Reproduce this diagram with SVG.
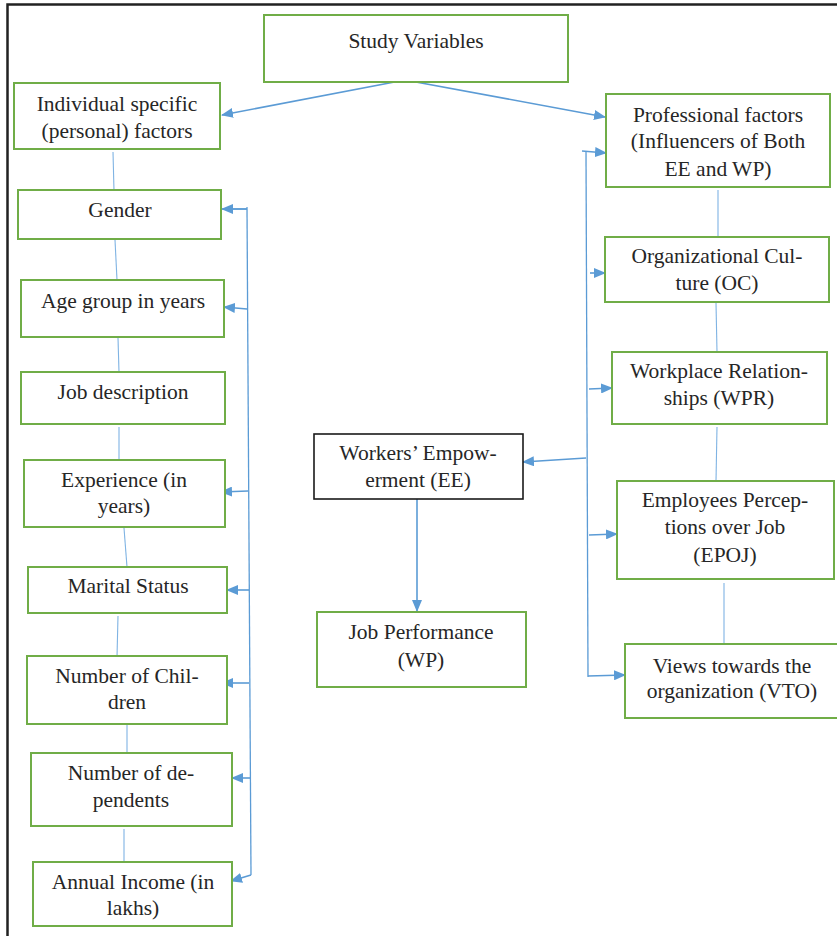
<svg xmlns="http://www.w3.org/2000/svg" width="837" height="936" viewBox="0 0 837 936">
<style>
.box{fill:#fff;stroke:#70AD47;stroke-width:2}
.bbox{fill:#fff;stroke:#1a1a1a;stroke-width:1.6}
text{font-family:"Liberation Serif","Times New Roman",serif;font-size:21.5px;fill:#262626;text-anchor:middle}
.arr{stroke:#5B9BD5;stroke-width:1.6;fill:none;marker-end:url(#ah)}
.bus{stroke:#5B9BD5;stroke-width:1.3;fill:none}
.ln{stroke:#7FB3E3;stroke-width:1.1;fill:none}
</style>
<defs>
<marker id="ah" markerUnits="userSpaceOnUse" markerWidth="12" markerHeight="10" refX="11" refY="5" orient="auto">
<path d="M0,0 L12,5 L0,10 Z" fill="#5B9BD5"/>
</marker>
</defs>
<rect width="837" height="936" fill="#fff"/>
<path d="M7.5,936 V4.5 H837" stroke="#222" stroke-width="2.5" fill="none"/>

<g id="connectors">
<line class="arr" x1="405" y1="80" x2="222" y2="115"/>
<line class="arr" x1="405" y1="80" x2="605" y2="117"/>
<line class="bus" x1="247" y1="207" x2="251" y2="875"/>
<line class="bus" x1="232" y1="209" x2="247" y2="209"/>
<line class="arr" x1="247" y1="209" x2="222" y2="209"/>
<line class="arr" x1="247" y1="309" x2="224" y2="307"/>
<line class="arr" x1="248" y1="491" x2="221" y2="492"/>
<line class="arr" x1="249" y1="590" x2="227" y2="590"/>
<line class="arr" x1="249" y1="683" x2="222" y2="683"/>
<line class="arr" x1="250" y1="778" x2="232" y2="778"/>
<line class="arr" x1="251" y1="875" x2="231" y2="881"/>
<line class="ln" x1="113" y1="152" x2="114" y2="191"/>
<line class="ln" x1="115" y1="240" x2="117" y2="280"/>
<line class="ln" x1="118" y1="338" x2="119" y2="372"/>
<line class="ln" x1="119" y1="427" x2="119" y2="460"/>
<line class="ln" x1="124" y1="528" x2="127" y2="567"/>
<line class="ln" x1="118" y1="616" x2="117" y2="657"/>
<line class="ln" x1="127" y1="725" x2="127" y2="753"/>
<line class="ln" x1="124" y1="829" x2="124" y2="862"/>
<line class="bus" x1="586" y1="151" x2="588" y2="677"/>
<line class="arr" x1="582" y1="151" x2="606" y2="153"/>
<line class="arr" x1="590" y1="273" x2="605" y2="273"/>
<line class="arr" x1="589" y1="389" x2="612" y2="388"/>
<line class="arr" x1="586" y1="458" x2="523" y2="462"/>
<line class="arr" x1="589" y1="535" x2="617" y2="534"/>
<line class="arr" x1="588" y1="676" x2="625" y2="675"/>
<line class="ln" x1="718" y1="190" x2="718" y2="237"/>
<line class="ln" x1="716" y1="303" x2="717" y2="352"/>
<line class="ln" x1="717" y1="427" x2="716" y2="481"/>
<line class="ln" x1="724" y1="583" x2="724" y2="650"/>
<line class="arr" x1="417" y1="499" x2="417" y2="611"/>
</g>

<g id="study"><rect class="box" x="264" y="15" width="304" height="67"/><text x="416" y="48">Study Variables</text></g>
<g id="individual"><rect class="box" x="14" y="83" width="206" height="66"/><text x="117" y="111">Individual specific</text><text x="117" y="138">(personal) factors</text></g>
<g id="gender"><rect class="box" x="18" y="190" width="203" height="49"/><text x="120" y="217">Gender</text></g>
<g id="age"><rect class="box" x="21" y="280" width="203" height="57"/><text x="123" y="308">Age group in years</text></g>
<g id="job"><rect class="box" x="21" y="372" width="204" height="52"/><text x="123" y="399">Job description</text></g>
<g id="experience"><rect class="box" x="24" y="460" width="201" height="67"/><text x="124" y="487">Experience (in</text><text x="124" y="513">years)</text></g>
<g id="marital"><rect class="box" x="28" y="567" width="199" height="46"/><text x="128" y="593">Marital Status</text></g>
<g id="children"><rect class="box" x="27" y="656" width="200" height="68"/><text x="127" y="683">Number of Chil-</text><text x="127" y="709">dren</text></g>
<g id="dependents"><rect class="box" x="31" y="753" width="201" height="73"/><text x="131" y="780">Number of de-</text><text x="131" y="807">pendents</text></g>
<g id="income"><rect class="box" x="33" y="862" width="199" height="64"/><text x="133" y="889">Annual Income (in</text><text x="133" y="915">lakhs)</text></g>

<g id="professional"><rect class="box" x="606" y="94" width="224" height="93"/><text x="718" y="122">Professional factors</text><text x="718" y="148">(Influencers of Both</text><text x="718" y="176">EE and WP)</text></g>
<g id="oc"><rect class="box" x="605" y="237" width="224" height="65"/><text x="717" y="263">Organizational Cul-</text><text x="717" y="290">ture (OC)</text></g>
<g id="wpr"><rect class="box" x="612" y="352" width="215" height="72"/><text x="719" y="378">Workplace Relation-</text><text x="719" y="405">ships (WPR)</text></g>
<g id="epoj"><rect class="box" x="617" y="481" width="217" height="98"/><text x="725" y="507">Employees Percep-</text><text x="725" y="534">tions over Job</text><text x="725" y="562">(EPOJ)</text></g>
<g id="vto"><rect class="box" x="625" y="644" width="215" height="74"/><text x="732" y="673">Views towards the</text><text x="732" y="698">organization (VTO)</text></g>

<g id="ee"><rect class="bbox" x="314" y="434" width="209" height="65"/><text x="418" y="460">Workers’ Empow-</text><text x="418" y="487">erment (EE)</text></g>
<g id="wp"><rect class="box" x="317" y="612" width="209" height="75"/><text x="421" y="639">Job Performance</text><text x="421" y="667">(WP)</text></g>
</svg>
